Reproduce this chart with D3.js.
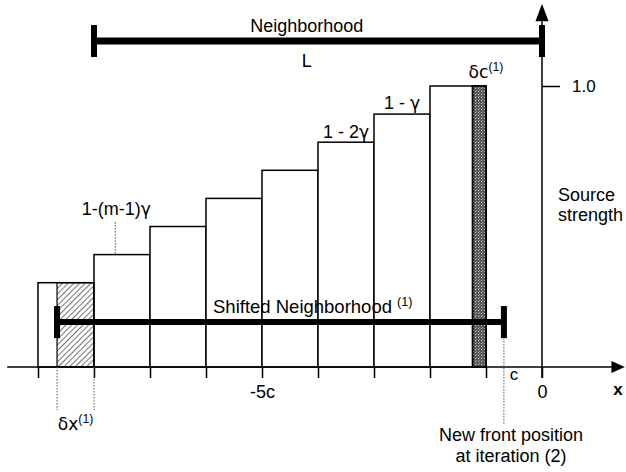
<!DOCTYPE html>
<html>
<head>
<meta charset="utf-8">
<script src="https://cdn.jsdelivr.net/npm/d3@7"></script>
<style>
  html, body { margin: 0; padding: 0; background: #fff; }
  svg { display: block; }
  text { font-family: "Liberation Sans", Arial, Helvetica, sans-serif; fill: #000; }
  .greek { font-family: "DejaVu Sans", "Liberation Sans", sans-serif; }
</style>
</head>
<body>
<script>
// Source strength steps, one bin of width c each (positions in units of c)
const binStart = [-9, -8, -7, -6, -5, -4, -3, -2];
const strength = [0.3, 0.4, 0.5, 0.6, 0.7, 0.8, 0.9, 1.0];

// Neighborhood of length L and the shifted one after iteration (1)
const neighborhood = { from: -8, to: 0, level: 1.16 };
const shifted = { from: -8.66, to: -0.68, level: 0.16 };

// Removed slice δx(1) on the left and added slice δc(1) on the right
const deltaX = { from: -8.66, to: -8, value: 0.3 };
const deltaC = { from: -1.24, to: -1, value: 1.0 };

// Axis ticks
const xTicks = [-9, -8, -7, -6, -5, -4, -3, -2, -1, 0];
const xTickLabels = { "-5": "-5c", "0": "0" };
const yTicks = [1.0];

const W = 626, H = 472;
const svg = d3.select("body").append("svg").attr("width", W).attr("height", H);

const x = d3.scaleLinear().domain([-9, 0]).range([38, 542]);
const y = d3.scaleLinear().domain([0, 1]).range([367, 86]);

const defs = svg.append("defs");
// diagonal hatching
const hatch = defs.append("pattern")
  .attr("id", "hatch").attr("patternUnits", "userSpaceOnUse")
  .attr("width", 4).attr("height", 4)
  .attr("patternTransform", "rotate(45)");
hatch.append("line").attr("x1", 0).attr("y1", 0).attr("x2", 0).attr("y2", 4)
  .attr("stroke", "#000").attr("stroke-width", 1.1);
// grey stipple
const stip = defs.append("pattern")
  .attr("id", "stipple").attr("patternUnits", "userSpaceOnUse")
  .attr("width", 3).attr("height", 3);
stip.append("rect").attr("width", 3).attr("height", 3).attr("fill", "#555");
stip.append("rect").attr("x", 1).attr("y", 1).attr("width", 1).attr("height", 1).attr("fill", "#c8c8c8");
stip.append("rect").attr("x", 2).attr("y", 0).attr("width", 1).attr("height", 1).attr("fill", "#999");

const g = svg.append("g");

// step bars
g.selectAll("rect.bin").data(binStart).join("rect")
  .attr("class", "bin")
  .attr("x", d => x(d))
  .attr("y", (d, i) => y(strength[i]))
  .attr("width", d => x(d + 1) - x(d))
  .attr("height", (d, i) => y(0) - y(strength[i]))
  .attr("fill", "#fff").attr("stroke", "#000").attr("stroke-width", 1.5);

// δx slice (hatched)
g.append("rect")
  .attr("x", x(deltaX.from)).attr("y", y(deltaX.value))
  .attr("width", x(deltaX.to) - x(deltaX.from))
  .attr("height", y(0) - y(deltaX.value))
  .attr("fill", "url(#hatch)").attr("stroke", "#000").attr("stroke-width", 1.2);

// δc slice (stippled)
g.append("rect")
  .attr("x", x(deltaC.from)).attr("y", y(deltaC.value))
  .attr("width", x(deltaC.to) - x(deltaC.from))
  .attr("height", y(0) - y(deltaC.value))
  .attr("fill", "url(#stipple)").attr("stroke", "#000").attr("stroke-width", 1.8);

// x axis
const xAxis = d3.axisBottom(x).tickValues(xTicks)
  .tickSize(11).tickPadding(7)
  .tickFormat(d => xTickLabels[String(d)] || "");
const xg = svg.append("g").attr("transform", `translate(0,${y(0)})`).call(xAxis);
xg.select(".domain").remove();
xg.selectAll(".tick line").attr("stroke", "#000").attr("stroke-width", 1.5);
xg.selectAll(".tick text").attr("font-size", 18).attr("font-family", "Liberation Sans, Arial, sans-serif").attr("fill", "#000");
svg.append("line")
  .attr("x1", x(-9.55)).attr("x2", x(1.25)).attr("y1", y(0)).attr("y2", y(0))
  .attr("stroke", "#000").attr("stroke-width", 1.5);
svg.append("path")
  .attr("d", `M${x(1.48)},${y(0)} L${x(1.24)},${y(0) - 6} L${x(1.24)},${y(0) + 6} Z`)
  .attr("fill", "#000");

// y axis
const yAxis = d3.axisRight(y).tickValues(yTicks).tickSize(18).tickPadding(12)
  .tickFormat(d3.format(".1f"));
const yg = svg.append("g").attr("transform", `translate(${x(0)},0)`).call(yAxis);
yg.select(".domain").remove();
yg.selectAll(".tick line").attr("stroke", "#000").attr("stroke-width", 1.5);
yg.selectAll(".tick text").attr("font-size", 17).attr("font-family", "Liberation Sans, Arial, sans-serif").attr("fill", "#000");
svg.append("line")
  .attr("x1", x(0)).attr("x2", x(0)).attr("y1", y(0) + 11).attr("y2", y(1.23))
  .attr("stroke", "#000").attr("stroke-width", 1.5);
svg.append("path")
  .attr("d", `M${x(0)},${y(1.293)} L${x(0) - 6.5},${y(1.23)} L${x(0) + 6.5},${y(1.23)} Z`)
  .attr("fill", "#000");

// neighborhood bars with end caps
function span(s, capHalf, thick) {
  const grp = svg.append("g");
  grp.append("line")
    .attr("x1", x(s.from)).attr("x2", x(s.to))
    .attr("y1", y(s.level)).attr("y2", y(s.level))
    .attr("stroke", "#000").attr("stroke-width", thick);
  grp.selectAll("line.cap").data([s.from, s.to]).join("line")
    .attr("class", "cap")
    .attr("x1", d => x(d)).attr("x2", d => x(d))
    .attr("y1", y(s.level) - capHalf).attr("y2", y(s.level) + capHalf)
    .attr("stroke", "#000").attr("stroke-width", 6);
}
span(neighborhood, 16, 7);
span(shifted, 16, 6);

// dotted guides
const dotted = (x1, y1, x2, y2) => svg.append("line")
  .attr("x1", x1).attr("y1", y1).attr("x2", x2).attr("y2", y2)
  .attr("stroke", "#555").attr("stroke-width", 1).attr("stroke-dasharray", "1.5,1.5");
dotted(x(deltaX.from), y(0), x(deltaX.from), y(0) + 43);
dotted(x(deltaX.to), y(0), x(deltaX.to), y(0) + 43);
dotted(x(shifted.to), y(shifted.level) + 16, x(shifted.to), 425);
dotted(x(-7.62), y(0.4) - 1, x(-7.62), 222);

// labels; a part may be superscript or use the Greek font
function label(px, py, parts, size, anchor) {
  const t = svg.append("text").attr("x", px).attr("y", py)
    .attr("font-size", size).attr("text-anchor", anchor || "middle");
  let raised = false;
  parts.forEach(p => {
    const ts = t.append("tspan").text(p.t);
    if (p.sup) { ts.attr("font-size", size * 0.68).attr("dy", -7); raised = true; }
    else if (raised) { ts.attr("dy", 7); raised = false; }
    if (p.greek) ts.attr("class", "greek").attr("font-size", size * 0.95);
  });
  return t;
}
label(x(-4.2), 32, [{ t: "Neighborhood" }], 18);
label(x(-4.2), 67, [{ t: "L" }], 18);
label(x(-1), 78, [{ t: "δc", greek: true }, { t: "(1)", sup: true }], 18);
label(x(-2.5), 109, [{ t: "1 - " }, { t: "γ", greek: true }], 18);
label(x(-3.5), 138, [{ t: "1 - 2" }, { t: "γ", greek: true }], 18);
label(x(-7.6), 215, [{ t: "1-(m-1)" }, { t: "γ", greek: true }], 18);
label(213, 313, [{ t: "Shifted Neighborhood " }, { t: "(1)", sup: true }], 18.5, "start");
label((x(deltaX.from) + x(deltaX.to)) / 2, 430, [{ t: "δx", greek: true }, { t: "(1)", sup: true }], 18);
label(x(-0.5), 380, [{ t: "c" }], 17);
svg.append("text").attr("x", 618).attr("y", 395).attr("text-anchor", "middle")
  .attr("font-size", 17).attr("font-weight", "bold").text("x");
label(558, 201, [{ t: "Source" }], 18, "start");
label(558, 221, [{ t: "strength" }], 18, "start");
label(511, 441, [{ t: "New front position" }], 18);
label(511, 462, [{ t: "at iteration (2)" }], 18);
</script>
</body>
</html>
